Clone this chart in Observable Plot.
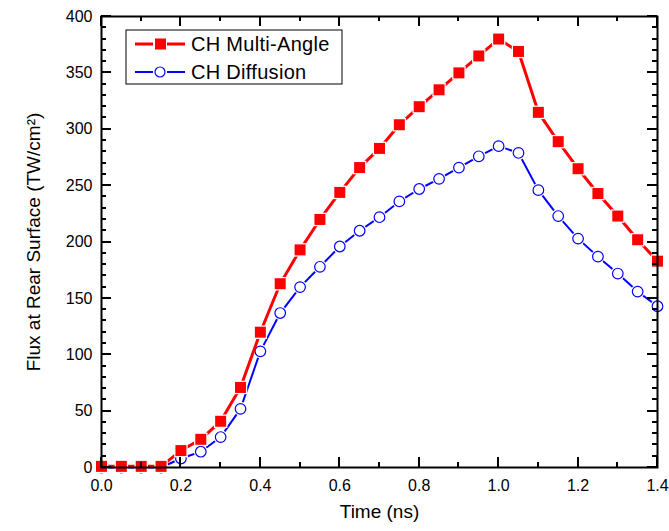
<!DOCTYPE html>
<html><head><meta charset="utf-8">
<script src="https://cdn.jsdelivr.net/npm/d3@7"></script>
<script src="https://cdn.jsdelivr.net/npm/@observablehq/plot@0.6"></script>
<style>body{margin:0;background:#fff;font-family:"Liberation Sans",Arial,sans-serif}</style>
</head><body><div id="chart"></div>
<script>
const time = [0,0.05,0.1,0.15,0.2,0.25,0.3,0.35,0.4,0.45,0.5,0.55,0.6,0.65,0.7,0.75,0.8,0.85,0.9,0.95,1.0,1.05,1.1,1.15,1.2,1.25,1.3,1.35,1.4];
const multiAngle = [1,1,1,1,15,25,41,71,120,163,193,220,244,266,283,304,320,335,350,365,380,369,315,289,265,243,223,202,183];
const diffusion = [0,0,0,0,8,14,27,52,103,137,160,178,196,210,222,236,247,256,266,276,285,279,246,223,203,187,172,156,143];
const seriesNames = ["CH Multi-Angle", "CH Diffusion"];
const xMajor = [0,0.2,0.4,0.6,0.8,1.0,1.2,1.4];
const xMinor = [0.1,0.3,0.5,0.7,0.9,1.1,1.3];
const yMajor = [0,50,100,150,200,250,300,350,400];
const yMinor = [10,20,30,40,60,70,80,90,110,120,130,140,160,170,180,190,210,220,230,240,260,270,280,290,310,320,330,340,360,370,380,390];

const red = "#ff0000", blue = "#0000ff";
const W = 669, H = 531;
const mL = 101, mR = 12, mT = 16, mB = 64;
const maj = 10, mnr = 5;

const rows = time.map((t, i) => ({t, a: multiAngle[i], d: diffusion[i]}));

const plot = Plot.plot({
  width: W, height: H,
  marginLeft: mL, marginRight: mR, marginTop: mT, marginBottom: mB,
  style: {fontFamily: "Liberation Sans, Arial, sans-serif", fontSize: "16px", color: "black", background: "white"},
  x: {domain: [0, 1.4]},
  y: {domain: [0, 400]},
  marks: [
    Plot.axisX({anchor: "bottom", ticks: xMajor, tickSize: 0, tickPadding: 12, tickFormat: d3.format(".1f"), label: null, fontSize: 16}),
    Plot.axisY({anchor: "left", ticks: yMajor, tickSize: 0, tickPadding: 9, label: null, fontSize: 16}),
    // diffusion
    Plot.line(rows, {x: "t", y: "d", stroke: blue, strokeWidth: 2}),
    Plot.dot(rows, {x: "t", y: "d", r: 7, fill: "white", stroke: "none"}),
    Plot.dot(rows, {x: "t", y: "d", r: 5.3, fill: "white", stroke: blue, strokeWidth: 1.2}),
    // multi-angle
    Plot.line(rows, {x: "t", y: "a", stroke: red, strokeWidth: 3}),
    Plot.dot(rows, {x: "t", y: "a", symbol: "square", r: 7.6, fill: "white", stroke: "none"}),
    Plot.dot(rows, {x: "t", y: "a", symbol: "square", r: 6.2, fill: red, stroke: "none"}),
    Plot.frame({stroke: "black", strokeWidth: 2}),
    Plot.text(["Time (ns)"], {frameAnchor: "bottom", dy: 50, fontSize: 19, fill: "black", textAnchor: "middle"}),
    Plot.text(["Flux at Rear Surface (TW/cm²)"], {frameAnchor: "left", dx: -68, rotate: -90, fontSize: 19, fill: "black", textAnchor: "middle"})
  ]
});
document.getElementById("chart").appendChild(plot);

const svg = d3.select(plot);
const xs = plot.scale("x"), ys = plot.scale("y");
const x0 = mL, x1 = W - mR, y0 = H - mB, y1 = mT;

// inward ticks on all four sides, placed through Plot's scales
const tg = svg.append("g");
function seg(a, b, c, d) {
  tg.append("path").attr("d", `M${a},${b}L${c},${d}`).attr("stroke", "black").attr("stroke-width", 2).attr("fill", "none");
}
function xt(vals, len) {
  vals.forEach(v => {
    const px = Math.round(+xs.apply(v));
    seg(px, y0, px, y0 - len);
    seg(px, y1, px, y1 + len);
  });
}
function yt(vals, len) {
  vals.forEach(v => {
    const py = Math.round(+ys.apply(v));
    seg(x0, py, x0 + len, py);
    seg(x1, py, x1 - len, py);
  });
}
xt(xMajor, maj); xt(xMinor, mnr); yt(yMajor, maj); yt(yMinor, mnr);

// legend inside the frame
const lg = svg.append("g").attr("transform", `translate(${mL + 25},${mT + 14})`);
lg.append("rect").attr("width", 216).attr("height", 54).attr("fill", "white").attr("stroke", "black").attr("stroke-width", 1);
const items = [
  {name: seriesNames[0], color: red, sw: 3, sym: "square"},
  {name: seriesNames[1], color: blue, sw: 2, sym: "circle"}
];
items.forEach((it, i) => {
  const y = 14 + i * 28;
  const g = lg.append("g").attr("transform", `translate(0,${y})`);
  g.append("line").attr("x1", 9).attr("x2", 27).attr("y1", 0).attr("y2", 0).attr("stroke", it.color).attr("stroke-width", it.sw);
  g.append("line").attr("x1", 41).attr("x2", 59).attr("y1", 0).attr("y2", 0).attr("stroke", it.color).attr("stroke-width", it.sw);
  if (it.sym === "square") g.append("rect").attr("x", 29).attr("y", -5.5).attr("width", 11).attr("height", 11).attr("fill", it.color);
  else g.append("circle").attr("cx", 34).attr("cy", 0).attr("r", 5).attr("fill", "white").attr("stroke", it.color).attr("stroke-width", 1.2);
  g.append("text").attr("x", 65).attr("y", 0).attr("dy", "0.35em").attr("text-anchor", "start")
    .attr("font-size", 20).attr("letter-spacing", "0.3px").attr("fill", "black").text(it.name);
});
</script>
</body></html>
